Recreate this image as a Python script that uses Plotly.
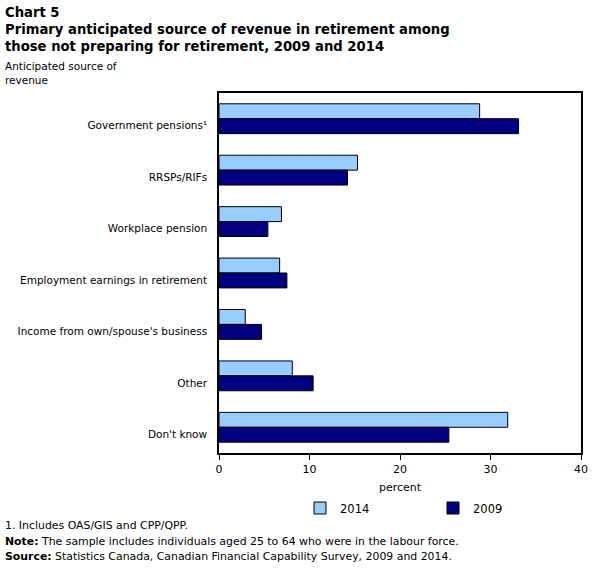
import plotly.graph_objects as go

categories = ["Government pensions\u00b9", "RRSPs/RIFs", "Workplace pension",
              "Employment earnings in retirement", "Income from own/spouse's business",
              "Other", "Don't know"]
values_2014 = [28.8, 15.3, 6.9, 6.7, 2.9, 8.1, 31.9]
values_2009 = [33.1, 14.2, 5.4, 7.5, 4.7, 10.4, 25.4]
x_ticks = [0, 10, 20, 30, 40]

FONT = "DejaVu Sans"
PW, PH = 362, 360  # plot area size in px
L, T = 219, 93

fig = go.Figure()
fig.add_trace(go.Bar(y=categories, x=values_2014, orientation="h", name="2014",
                     legend="legend",
                     marker=dict(color="#99CCFF", line=dict(color="black", width=1))))
fig.add_trace(go.Bar(y=categories, x=values_2009, orientation="h", name="2009",
                     legend="legend2",
                     marker=dict(color="#000080", line=dict(color="black", width=1))))

def px_x(x):
    return (x - L) / PW

def px_y(y):
    return 1 - (y - T) / PH

leg_common = dict(orientation="h", yanchor="middle", itemwidth=30,
                  font=dict(size=11.5), bgcolor="rgba(0,0,0,0)")

fig.update_layout(
    width=605, height=568,
    margin=dict(l=L, r=605 - L - PW, t=T, b=568 - T - PH),
    paper_bgcolor="white", plot_bgcolor="white",
    barmode="group", bargap=0.42, bargroupgap=0,
    font=dict(family=FONT, size=10.5, color="black"),
    showlegend=True,
    legend=dict(x=px_x(300), y=px_y(508), **leg_common),
    legend2=dict(x=px_x(433), y=px_y(508), **leg_common),
    xaxis=dict(range=[0, 40], tickvals=x_ticks, ticks="outside", ticklen=5,
               tickcolor="black", showline=True, linecolor="black", linewidth=1.5,
               mirror=True, showgrid=False, zeroline=False,
               title=dict(text="percent", font=dict(size=11), standoff=8),
               tickfont=dict(size=11)),
    yaxis=dict(autorange="reversed", showline=True, linecolor="black", linewidth=1.5,
               mirror=True, ticks="", showgrid=False, ticklabelstandoff=8,
               ticklabelshift=-7),
)

def note(text, y, size=10.5):
    fig.add_annotation(xref="paper", yref="paper", x=px_x(3), y=px_y(y),
                       xanchor="left", yanchor="middle", align="left", showarrow=False,
                       text=text, font=dict(size=size, family=FONT))

note("<b>Chart 5</b>", 13, 13.2)
note("<b>Primary anticipated source of revenue in retirement among</b>", 30, 13.2)
note("<b>those not preparing for retirement, 2009 and 2014</b>", 46, 13.2)
note("Anticipated source of", 66)
note("revenue", 80)
note("1. Includes OAS/GIS and CPP/QPP.", 525, 10.9)
note("<b>Note:</b> The sample includes individuals aged 25 to 64 who were in the labour force.", 541, 10.9)
note("<b>Source:</b> Statistics Canada, Canadian Financial Capability Survey, 2009 and 2014.", 556, 10.9)

fig.write_html("out.html")
